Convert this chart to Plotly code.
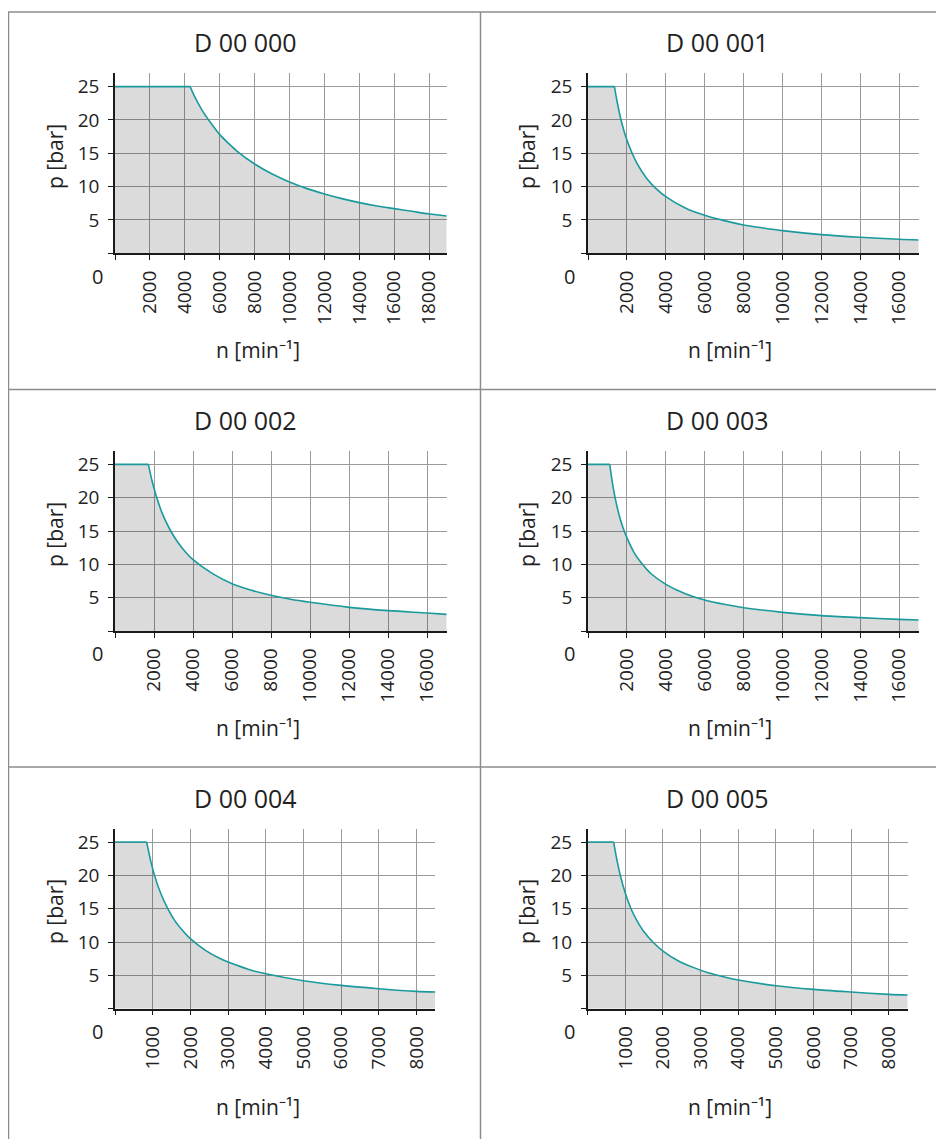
import plotly.graph_objects as go

# ---------------- data ----------------
titles = ["D 00 000", "D 00 001", "D 00 002", "D 00 003", "D 00 004", "D 00 005"]

n_d000 = [0, 4300, 4600, 5000, 5500, 6000, 6500, 7000, 8000, 9000, 10000, 11000, 12000, 13000, 14000, 15000, 16000, 17000, 18000, 19000]
p_d000 = [25, 25, 23.3, 21.4, 19.5, 17.8, 16.5, 15.3, 13.4, 11.9, 10.7, 9.7, 8.9, 8.2, 7.6, 7.1, 6.7, 6.3, 5.9, 5.6]

n_d001 = [0, 1360, 1500, 1750, 2000, 2500, 3000, 3500, 4000, 5000, 6000, 7000, 8000, 9000, 10000, 12000, 14000, 16000, 17000]
p_d001 = [25, 25, 22.7, 19.4, 17.0, 13.6, 11.3, 9.7, 8.5, 6.8, 5.7, 4.9, 4.25, 3.8, 3.4, 2.8, 2.4, 2.1, 2.0]

n_d002 = [0, 1710, 1900, 2100, 2400, 2800, 3200, 3600, 4000, 5000, 6000, 7000, 8000, 9000, 10000, 12000, 14000, 16000, 17000]
p_d002 = [25, 25, 22.5, 20.4, 17.8, 15.3, 13.4, 11.9, 10.7, 8.6, 7.1, 6.1, 5.35, 4.75, 4.3, 3.55, 3.05, 2.7, 2.5]

n_d003 = [0, 1120, 1250, 1400, 1600, 1800, 2000, 2400, 2800, 3200, 4000, 5000, 6000, 7000, 8000, 10000, 12000, 14000, 16000, 17000]
p_d003 = [25, 25, 22.3, 19.9, 17.4, 15.5, 14.0, 11.6, 10.0, 8.7, 7.0, 5.6, 4.65, 4.0, 3.5, 2.8, 2.3, 2.0, 1.75, 1.65]

n_d004 = [0, 840, 950, 1050, 1200, 1400, 1600, 1800, 2000, 2400, 2800, 3200, 3600, 4000, 5000, 6000, 7000, 8000, 8500]
p_d004 = [25, 25, 22.1, 20.0, 17.5, 15.0, 13.1, 11.7, 10.5, 8.75, 7.5, 6.6, 5.8, 5.25, 4.2, 3.5, 3.0, 2.6, 2.5]

n_d005 = [0, 690, 780, 870, 1000, 1150, 1300, 1500, 1750, 2000, 2400, 2800, 3200, 3600, 4000, 5000, 6000, 7000, 8000, 8500]
p_d005 = [25, 25, 22.2, 19.9, 17.3, 15.0, 13.3, 11.5, 9.9, 8.65, 7.2, 6.2, 5.4, 4.8, 4.3, 3.45, 2.9, 2.5, 2.15, 2.05]

x_max = [19000, 17000, 17000, 17000, 8500, 8500]
x_ticks_wide = [0, 2000, 4000, 6000, 8000, 10000, 12000, 14000, 16000, 18000]
x_ticks_narrow = [0, 1000, 2000, 3000, 4000, 5000, 6000, 7000, 8000]
y_ticks = [0, 5, 10, 15, 20, 25]
y_max = 27

x_title = "n [min⁻¹]"
y_title = "p [bar]"

series_n = [n_d000, n_d001, n_d002, n_d003, n_d004, n_d005]
series_p = [p_d000, p_d001, p_d002, p_d003, p_d004, p_d005]

# ---------------- layout geometry (pixels of the 944x1139 window) ----------------
OFF = 8                      # default body margin of the html page
W, H = 944 - OFF, 1139 - OFF
FONT = "Open Sans"
TXT = "#222222"
LINE = "#1a9a9c"
FILL = "rgba(0,0,0,0.14)"
GRID = "#9a9a9a"
AXIS = "#1a1a1a"
BORDER = "#8c8c8c"

# plot area pixel boxes: (x0, x1, ytop, ybottom)
boxes = [
    (115, 446.7, 73.3, 253.3),
    (588, 918.7, 73.3, 253.3),
    (115, 446.7, 451.0, 631.0),
    (588, 918.7, 451.0, 631.0),
    (115, 435.3, 828.7, 1008.7),
    (587.7, 907.7, 828.7, 1008.7),
]
panel_cx = [245, 717, 245, 717, 245, 717]
title_y = [42, 42, 420, 420, 798, 798]
xt_x = [258, 730, 258, 730, 258, 730]
xt_y = [350, 350, 728, 728, 1107, 1107]
yt_x = [55, 527, 55, 527, 55, 527]
yt_y = [157, 157, 535, 535, 912, 912]
zero_x = [97, 569, 97, 569, 97, 569]
zero_y = [276, 276, 653, 653, 1031, 1031]

def px(x):
    return (x - OFF) / W

def py(y):
    return 1 - (y - OFF) / H

fig = go.Figure()
annotations = []

for i in range(6):
    k = "" if i == 0 else str(i + 1)
    xa, ya = "x" + k, "y" + k
    x0, x1, yt, yb = boxes[i]
    n, p = series_n[i], series_p[i]
    # flat (maximum pressure) part
    fig.add_trace(go.Scatter(
        x=n[:2], y=p[:2], xaxis=xa, yaxis=ya,
        mode="lines", line=dict(color=LINE, width=1.6),
        fill="tozeroy", fillcolor=FILL, hoverinfo="skip", showlegend=False,
    ))
    # falling part
    fig.add_trace(go.Scatter(
        x=n[1:], y=p[1:], xaxis=xa, yaxis=ya,
        mode="lines", line=dict(color=LINE, width=1.6, shape="spline", smoothing=0.8),
        fill="tozeroy", fillcolor=FILL, hoverinfo="skip", showlegend=False,
    ))
    xticks = x_ticks_wide if x_max[i] > 10000 else x_ticks_narrow
    common = dict(
        showline=True, linecolor=AXIS, linewidth=1.5,
        showgrid=True, gridcolor=GRID, gridwidth=1,
        zeroline=False, ticks="outside", ticklen=5, tickwidth=1.2, tickcolor=AXIS,
        tickfont=dict(family=FONT, size=19, color=TXT),
        fixedrange=True,
    )
    fig.layout["xaxis" + k] = dict(
        common, domain=[px(x0), px(x1)], anchor=ya, range=[0, x_max[i]],
        tickmode="array", tickvals=xticks,
        ticktext=["" if v == 0 else str(v) for v in xticks],
        tickangle=-90, ticklabelstandoff=3,
    )
    fig.layout["yaxis" + k] = dict(
        common, domain=[py(yb), py(yt)], anchor=xa, range=[0, y_max],
        tickmode="array", tickvals=y_ticks,
        ticktext=["" if v == 0 else str(v) for v in y_ticks],
        ticklabelstandoff=5,
    )
    annotations += [
        dict(text=titles[i], x=px(panel_cx[i]), y=py(title_y[i]), xref="paper", yref="paper",
             showarrow=False, xanchor="center", yanchor="middle",
             font=dict(family=FONT, size=25, color=TXT)),
        dict(text=x_title, x=px(xt_x[i]), y=py(xt_y[i]), xref="paper", yref="paper",
             showarrow=False, xanchor="center", yanchor="middle",
             font=dict(family=FONT, size=21, color=TXT)),
        dict(text=y_title, x=px(yt_x[i]), y=py(yt_y[i]), xref="paper", yref="paper",
             showarrow=False, xanchor="center", yanchor="middle", textangle=-90,
             font=dict(family=FONT, size=21, color=TXT)),
        dict(text="0", x=px(zero_x[i]), y=py(zero_y[i]), xref="paper", yref="paper",
             showarrow=False, xanchor="center", yanchor="middle",
             font=dict(family=FONT, size=20, color=TXT)),
    ]

def hline(y, x0, x1):
    return dict(type="line", xref="paper", yref="paper", x0=px(x0), x1=px(x1), y0=py(y), y1=py(y),
                line=dict(color=BORDER, width=1.5))

def vline(x, y0, y1):
    return dict(type="line", xref="paper", yref="paper", x0=px(x), x1=px(x), y0=py(y0), y1=py(y1),
                line=dict(color=BORDER, width=1.5))

shapes = [
    vline(8.5, 12, 1139),
    hline(12, 8, 944),
    vline(480.5, 12, 1139),
    hline(389.5, 8, 944),
    hline(767, 8, 944),
]

fig.update_layout(
    width=W, height=H, margin=dict(l=0, r=0, t=0, b=0),
    paper_bgcolor="white", plot_bgcolor="white",
    annotations=annotations, shapes=shapes, showlegend=False,
    font=dict(family=FONT, color=TXT),
)

fig.write_html("out.html", config={"displayModeBar": False})
